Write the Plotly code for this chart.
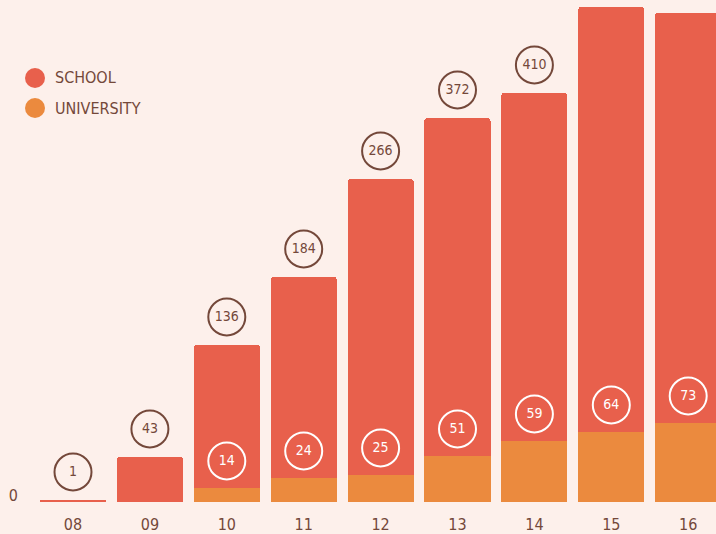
import plotly.graph_objects as go

# ---- data ----
years = ["08", "09", "10", "11", "12", "13", "14", "15", "16"]
# bar heights as drawn in the reference
school_height = [2, 45, 143, 201, 296, 338, 348, 425, 410]
university_height = [0, 0, 14, 24, 27, 46, 61, 70, 79]
# numbers printed in the circles
school_labels = ["1", "43", "136", "184", "266", "372", "410", "", ""]
university_labels = ["", "", "14", "24", "25", "51", "59", "64", "73"]

RED = "#e8604c"
ORANGE = "#eb8a3e"
BG = "#fdf0eb"
BROWN = "#74483a"
FONT = "DejaVu Sans Condensed, sans-serif"

x_idx = list(range(len(years)))
totals = [s + u for s, u in zip(school_height, university_height)]

fig = go.Figure()
fig.add_trace(go.Bar(x=x_idx, y=university_height, marker_color=ORANGE,
                     marker_line_width=0, name="UNIVERSITY", showlegend=False))
fig.add_trace(go.Bar(x=x_idx, y=school_height, marker_color=RED,
                     marker_line_width=0, name="SCHOOL", showlegend=False))

# school circles above bars
sx = [i for i, t in zip(x_idx, school_labels) if t]
sy = [totals[i] + 28 for i in sx]
st = [school_labels[i] for i in sx]
fig.add_trace(go.Scatter(x=sx, y=sy, mode="markers+text", text=st,
                         textposition="middle center",
                         textfont=dict(family=FONT, size=14, color=BROWN),
                         marker=dict(symbol="circle-open", size=37, color=BROWN,
                                     line=dict(width=2, color=BROWN)),
                         showlegend=False, hoverinfo="skip"))

# university circles inside the red part
ux = [i for i, t in zip(x_idx, university_labels) if t]
uy = [university_height[i] + 27 for i in ux]
ut = [university_labels[i] for i in ux]
fig.add_trace(go.Scatter(x=ux, y=uy, mode="markers+text", text=ut,
                         textposition="middle center",
                         textfont=dict(family=FONT, size=14, color="white"),
                         marker=dict(symbol="circle-open", size=37, color="white",
                                     line=dict(width=2, color="white")),
                         showlegend=False, hoverinfo="skip"))

L, W, H = 28, 716, 534
PW = W - L
PH = 502
step = 76.9
first = 73

fig.update_layout(
    width=W, height=H,
    margin=dict(l=L, r=0, t=0, b=H - PH),
    paper_bgcolor=BG, plot_bgcolor=BG,
    barmode="stack", bargap=0.14, barcornerradius=3,
    font=dict(family=FONT, color=BROWN),
    xaxis=dict(range=[-(first - L) / step, (W - first) / step],
               tickvals=x_idx, ticktext=years, showgrid=False, zeroline=False,
               showline=False, ticks="outside", ticklen=8,
               tickcolor="rgba(0,0,0,0)", tickfont=dict(size=16, color=BROWN)),
    yaxis=dict(range=[0, PH], tickvals=[0], ticktext=["0"], showgrid=False,
               zeroline=False, showline=False, ticks="outside", ticklen=6,
               tickcolor="rgba(0,0,0,0)", ticklabelshift=-7,
               tickfont=dict(size=16, color=BROWN)),
    showlegend=False,
)

# manual legend
legend_items = [("SCHOOL", RED, 78), ("UNIVERSITY", ORANGE, 108)]
for label, col, ypx in legend_items:
    yp = 1 - ypx / PH
    fig.add_shape(type="circle", xref="paper", yref="paper",
                  xsizemode="pixel", ysizemode="pixel",
                  xanchor=(35 - L) / PW, yanchor=yp,
                  x0=-10, x1=10, y0=-10, y1=10,
                  fillcolor=col, line_width=0)
    fig.add_annotation(x=(53 - L) / PW, y=yp, xref="paper", yref="paper",
                       text=label, showarrow=False, xanchor="left",
                       yanchor="middle", font=dict(family=FONT, size=16, color=BROWN))

fig.write_html("out.html", config={"displayModeBar": False},
               post_script="document.body.style.margin='0';document.body.style.overflow='hidden';")
